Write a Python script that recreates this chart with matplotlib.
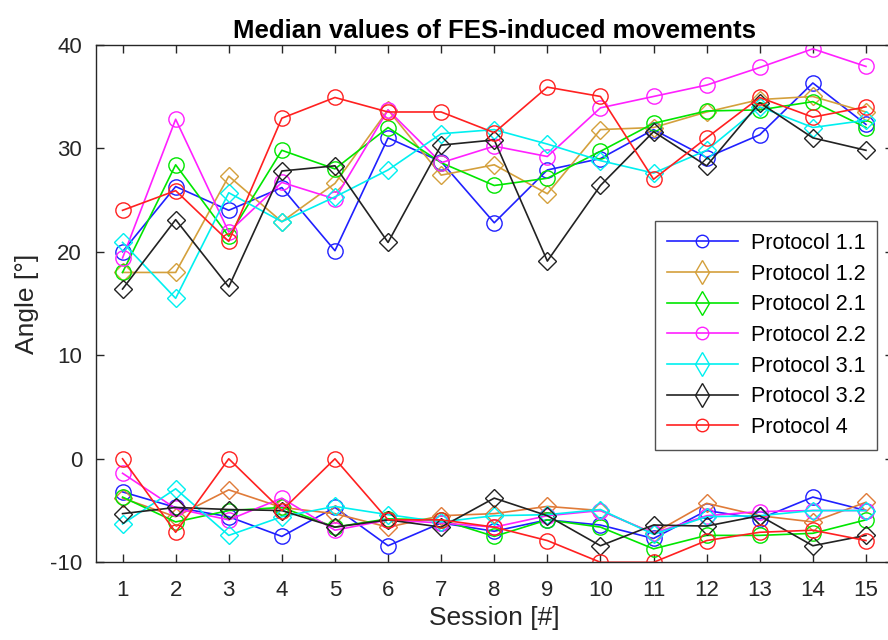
import matplotlib
matplotlib.use("Agg")
import matplotlib.pyplot as plt
from matplotlib.lines import Line2D

plt.rcParams['font.family'] = ['Liberation Sans', 'DejaVu Sans']
plt.rcParams['axes.unicode_minus'] = False

sessions = list(range(1, 16))
labels = ["Protocol 1.1", "Protocol 1.2", "Protocol 2.1", "Protocol 2.2",
          "Protocol 3.1", "Protocol 3.2", "Protocol 4"]

# upper group (positive angles)
p11_up = [20.0, 26.3, 24.0, 26.2, 20.1, 31.0, 28.7, 22.8, 27.9, 29.0, 31.8, 29.1, 31.3, 36.3, 32.3]
p12_up = [18.0, 18.0, 27.3, 22.9, 26.6, 33.7, 27.4, 28.4, 25.6, 31.8, 32.0, 33.5, 34.7, 35.0, 33.5]
p21_up = [18.0, 28.4, 21.5, 29.8, 28.0, 32.0, 28.6, 26.4, 27.1, 29.7, 32.4, 33.6, 33.7, 34.5, 32.0]
p22_up = [19.4, 32.8, 21.9, 26.7, 25.1, 33.7, 28.6, 30.2, 29.2, 33.9, 35.0, 36.1, 37.8, 39.6, 37.9]
p31_up = [20.9, 15.5, 25.7, 22.9, 25.3, 27.9, 31.4, 31.8, 30.4, 28.8, 27.6, 29.8, 34.0, 32.0, 32.7]
p32_up = [16.4, 23.1, 16.6, 27.8, 28.3, 20.9, 30.3, 30.8, 19.1, 26.4, 31.6, 28.3, 34.4, 31.0, 29.8]
p4_up = [24.0, 25.9, 21.0, 32.9, 34.9, 33.5, 33.5, 31.5, 35.9, 35.0, 27.0, 31.0, 34.9, 33.0, 34.0]

# lower group (negative angles)
p11_lo = [-3.2, -4.7, -5.6, -7.5, -4.7, -8.4, -6.2, -7.0, -5.9, -6.4, -7.7, -5.0, -5.8, -3.7, -5.0]
p12_lo = [-3.8, -5.6, -3.0, -4.7, -5.3, -6.6, -5.5, -5.3, -4.6, -5.0, -7.2, -4.3, -5.5, -6.1, -4.2]
p21_lo = [-3.7, -6.1, -5.0, -4.7, -6.6, -5.8, -5.9, -7.5, -5.9, -6.6, -8.7, -7.4, -7.4, -7.2, -5.9]
p22_lo = [-1.4, -4.8, -5.9, -3.8, -6.9, -5.9, -6.2, -6.6, -5.5, -5.0, -7.2, -5.5, -5.1, -5.0, -5.0]
p31_lo = [-6.3, -2.9, -7.4, -5.6, -4.6, -5.4, -6.1, -5.5, -5.4, -4.9, -7.3, -5.6, -5.5, -5.0, -5.0]
p32_lo = [-5.3, -4.7, -4.9, -5.0, -6.6, -5.9, -6.6, -3.8, -5.5, -8.4, -6.4, -6.5, -5.5, -8.4, -7.4]
p4_lo = [0.0, -7.1, 0.0, -5.0, 0.0, -5.9, -5.9, -6.6, -7.9, -10.0, -10.0, -7.9, -7.1, -6.9, -7.9]

colors_up = ['#2020ff', '#d4a03c', '#00e600', '#ff20ff', '#00f0f0', '#222222', '#ff2020']
colors_lo = ['#2020ff', '#e07b39', '#00e600', '#ff20ff', '#00f0f0', '#222222', '#ff2020']
plot_markers = ['o', 'D', 'o', 'o', 'D', 'D', 'o']
legend_markers = ['o', 'd', 'd', 'o', 'd', 'd', 'o']

upper = [p11_up, p12_up, p21_up, p22_up, p31_up, p32_up, p4_up]
lower = [p11_lo, p12_lo, p21_lo, p22_lo, p31_lo, p32_lo, p4_lo]

fig = plt.figure(figsize=(8.88, 6.4), dpi=100)
ax = fig.add_axes([96 / 888, 77.7 / 640, 796.5 / 888, 517.6 / 640])

for vals, c, m in zip(upper, colors_up, plot_markers):
    ms = 11 if m == 'o' else 9
    ax.plot(sessions, vals, color=c, marker=m, markersize=ms, markerfacecolor='none',
            markeredgewidth=1.0, linewidth=1.2)
for vals, c, m in zip(lower, colors_lo, plot_markers):
    ms = 11 if m == 'o' else 9
    ax.plot(sessions, vals, color=c, marker=m, markersize=ms, markerfacecolor='none',
            markeredgewidth=1.0, linewidth=1.2)

ax.set_xlim(0.5, 15.5)
ax.set_ylim(-10, 40)
ax.set_xticks(sessions)
ax.set_yticks([-10, 0, 10, 20, 30, 40])
ax.tick_params(direction='in', top=True, right=True, length=6, width=1,
               labelsize=16, colors='#262626')
ax.tick_params(axis='x', pad=13)
ax.tick_params(axis='y', pad=10)
for s in ax.spines.values():
    s.set_color('#262626')
    s.set_linewidth(1)

ax.set_title("Median values of FES-induced movements", fontsize=18.5, fontweight='bold', pad=5)
ax.set_xlabel("Session [#]", fontsize=19, color='#262626', labelpad=3)
ax.set_ylabel("Angle [°]", fontsize=19, color='#262626', labelpad=8)

handles = [Line2D([0], [0], color=c, marker=m, markersize=9 if m == 'o' else 12,
                  markerfacecolor='none', markeredgewidth=1.0, linewidth=1.2)
           for c, m in zip(colors_up, legend_markers)]
leg = ax.legend(handles, labels, loc='upper left', bbox_to_anchor=(655 / 888, 1 - 221 / 640),
                bbox_transform=fig.transFigure, fontsize=15.5, frameon=True, fancybox=False,
                edgecolor='#262626', handlelength=3.3, labelspacing=0.45, borderpad=0.55,
                handletextpad=0.6, borderaxespad=0)
leg.get_frame().set_linewidth(1)

fig.savefig("out.png", dpi=100)
